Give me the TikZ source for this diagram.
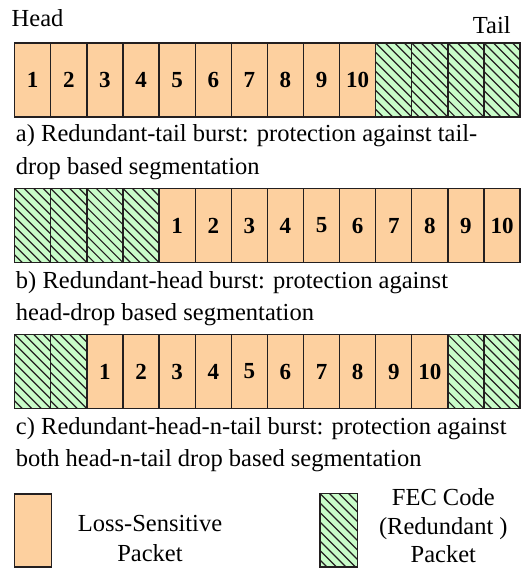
\documentclass[tikz,border=0pt]{standalone}
\usepackage{fontspec}
\setmainfont{Liberation Serif}
\newfontfamily\tnr{Liberation Serif}
\usetikzlibrary{calc}
\definecolor{pktorange}{HTML}{FDD09F}
\definecolor{fecgreen}{HTML}{C9FCC9}
\definecolor{edge}{HTML}{231F20}
\tikzset{
  cellbase/.style={draw=edge, line width=1.3pt, minimum width=36.1pt, minimum height=74pt,
    inner sep=0pt, outer sep=0pt, anchor=north west},
  pkt/.style={cellbase, fill=pktorange, font=\tnr\fontsize{23}{23}\selectfont\bfseries},
  fec/.style={cellbase, fill=fecgreen,
    path picture={\foreach \k in {-8,...,4}
      \draw[edge, line width=1.2pt] ([xshift=\k*9.5pt]path picture bounding box.north west) -- ++(90,90);}},
  txt/.style={inner sep=0pt, outer sep=0pt, font=\tnr\fontsize{24.5}{29}\selectfont},
}
\begin{document}
\begin{tikzpicture}[x=1pt,y=-1pt]
\useasboundingbox (0,0) rectangle (521,568);
% Head / Tail
\node[txt, anchor=base west] (head) at (11.7,26.7) {Head};
\node[txt, anchor=base east] (tail) at (510.7,33.3) {Tail};
% Row a
\foreach \i in {0,...,9} {
  \pgfmathtruncatemacro{\n}{\i+1}
  \node[pkt] (a\n) at (14.7+\i*36.1,43) {\n};
}
\foreach \i in {10,...,13} {
  \pgfmathtruncatemacro{\n}{\i+1}
  \node[fec] (a\n) at (14.7+\i*36.1,43) {};
}
\node[txt, anchor=base west] (capa1) at (16,141.5) {a) Redundant-tail burst: protection against tail-};
\node[txt, anchor=base west] (capa2) at (16,174) {drop based segmentation};
% Row b
\foreach \i in {0,...,3} {
  \pgfmathtruncatemacro{\n}{\i+1}
  \node[fec] (b\n) at (14.7+\i*36.1,188.5) {};
}
\foreach \i in {4,...,13} {
  \pgfmathtruncatemacro{\n}{\i-3}
  \pgfmathtruncatemacro{\m}{\i+1}
  \node[pkt] (b\m) at (14.7+\i*36.1,188.5) {\n};
}
\node[txt, anchor=base west] (capb1) at (16,288) {b) Redundant-head burst: protection against};
\node[txt, anchor=base west] (capb2) at (16,320.3) {head-drop based segmentation};
% Row c
\foreach \i in {0,1} {
  \pgfmathtruncatemacro{\n}{\i+1}
  \node[fec] (c\n) at (14.7+\i*36.1,334.5) {};
}
\foreach \i in {2,...,11} {
  \pgfmathtruncatemacro{\n}{\i-1}
  \pgfmathtruncatemacro{\m}{\i+1}
  \node[pkt] (c\m) at (14.7+\i*36.1,334.5) {\n};
}
\foreach \i in {12,13} {
  \pgfmathtruncatemacro{\n}{\i+1}
  \node[fec] (c\n) at (14.7+\i*36.1,334.5) {};
}
\node[txt, anchor=base west] (capc1) at (16,434) {c) Redundant-head-n-tail burst: protection against};
\node[txt, anchor=base west] (capc2) at (16,466.3) {both head-n-tail drop based segmentation};
% Legend
\node[pkt, minimum width=37pt, minimum height=73pt] (legpkt) at (14.7,494) {};
\node[txt, anchor=base] (legpkt1) at (150,531.7) {Loss-Sensitive};
\node[txt, anchor=base] (legpkt2) at (150,561) {Packet};
\node[fec, minimum width=37.3pt, minimum height=73.5pt] (legfec) at (320,493.5) {};
\node[txt, anchor=base] (legfec1) at (443.3,505) {FEC Code};
\node[txt, anchor=base] (legfec2) at (443.3,534) {(Redundant )};
\node[txt, anchor=base] (legfec3) at (443.3,562.5) {Packet};
\end{tikzpicture}
\end{document}
